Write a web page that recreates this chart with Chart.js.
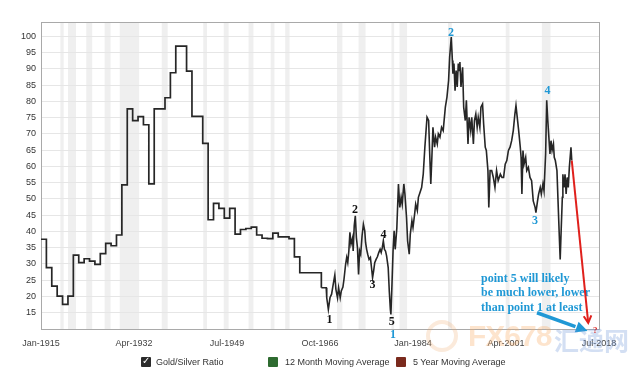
<!DOCTYPE html>
<html>
<head>
<meta charset="utf-8">
<script src="https://cdn.jsdelivr.net/npm/chart.js@4.4.1/dist/chart.umd.min.js"></script>
<style>
  html, body { margin:0; padding:0; background:#fff; }
  #wrap { position:relative; width:640px; height:379px; overflow:hidden; font-family:"Liberation Sans", Arial, sans-serif; }
  canvas { position:absolute; left:0; top:0; }
  .lg { position:absolute; font-size:9px; color:#333; line-height:10px; white-space:nowrap; }
  .box { position:absolute; width:10px; height:10px; }
  .wm { position:absolute; font-weight:bold; white-space:nowrap; pointer-events:none; }
</style>
</head>
<body>
<div id="wrap">
  <canvas id="c" width="640" height="379"></canvas>
  <div class="wm" style="left:426px;top:320px;width:32px;height:32px;border-radius:50%;border:4px solid rgba(240,170,110,0.25);box-sizing:border-box;"></div>
  <div class="wm" style="left:468px;top:319px;font-size:30px;letter-spacing:-1px;color:rgba(248,170,100,0.32);font-family:'Liberation Sans',Arial,sans-serif;">FX678</div>
  <div class="wm" style="left:554px;top:321px;font-size:25px;color:rgba(110,150,215,0.30);font-family:'Noto Sans CJK SC',sans-serif;">汇通网</div>
</div>
<script>
// ---- data ----
const annualStartYear = 1915;
const annualRatio = [37.6, 28.9, 23.2, 20.1, 17.6, 20.1, 32.7, 30.4, 31.6, 30.9,
  29.9, 33.2, 36.3, 35.6, 38.9, 54.3, 77.7, 74.1, 75.3, 72.8,
  54.6, 77.7, 77.7, 81.1, 88.8, 97.0, 97.0, 89.3, 75.4, 75.4,
  67.1, 43.6, 48.6, 47.1, 44.1, 47.1, 39.2, 40.6, 40.9, 41.3,
  38.9, 37.9, 37.8, 39.5, 38.3, 38.3, 37.8, 32.2, 27.3, 27.3,
  27.3, 27.3, 22.7];
const recentYears = [1967.0, 1967.9, 1968.0, 1968.3, 1968.6, 1968.9, 1969.2, 1969.5, 1969.7, 1970.0,
  1970.2, 1970.5, 1970.7, 1971.0, 1971.2, 1971.5, 1971.7, 1971.9, 1972.1, 1972.3,
  1972.5, 1972.8, 1972.9, 1973.1, 1973.3, 1973.5, 1973.7, 1973.9, 1974.1, 1974.3,
  1974.55, 1974.8, 1975.05, 1975.2, 1975.4, 1975.6, 1975.85, 1976.1, 1976.3, 1976.5,
  1976.7, 1976.9, 1977.15, 1977.4, 1977.65, 1977.9, 1978.1, 1978.3, 1978.5, 1978.7,
  1978.9, 1979.1, 1979.4, 1979.6, 1979.8, 1979.9, 1980.1, 1980.3, 1980.5, 1980.7,
  1981.0, 1981.3, 1981.55, 1981.8, 1982.0, 1982.3, 1982.5, 1982.8, 1983.0, 1983.3,
  1983.5, 1983.8, 1984.0, 1984.3, 1984.5, 1984.8, 1985.0, 1985.3, 1985.6, 1985.9,
  1986.2, 1986.6, 1986.9, 1987.1, 1987.3, 1987.5, 1987.7, 1988.0, 1988.2, 1988.5,
  1988.7, 1989.0, 1989.3, 1989.6, 1990.0, 1990.3, 1990.6, 1990.8, 1991.1, 1991.3,
  1991.4, 1991.6, 1991.8, 1992.0, 1992.2, 1992.4, 1992.55, 1992.7, 1992.9, 1993.2,
  1993.4, 1993.7, 1993.9, 1994.2, 1994.4, 1994.7, 1994.9, 1995.2, 1995.4, 1995.65,
  1995.9, 1996.1, 1996.4, 1996.6, 1996.9, 1997.1, 1997.4, 1997.6, 1997.9, 1998.06,
  1998.3, 1998.6, 1998.9, 1999.2, 1999.5, 1999.8, 2000.2, 2000.5, 2000.8, 2001.1,
  2001.4, 2001.7, 2002.0, 2002.3, 2002.6, 2002.9, 2003.1, 2003.4, 2003.6, 2003.9,
  2004.05, 2004.2, 2004.4, 2004.6, 2004.9, 2005.1, 2005.4, 2005.7, 2006.0, 2006.3,
  2006.65, 2006.8, 2007.1, 2007.3, 2007.6, 2007.8, 2008.1, 2008.3, 2008.6, 2008.8,
  2009.0, 2009.2, 2009.4, 2009.6, 2009.8, 2010.05, 2010.2, 2010.4, 2010.7, 2010.9,
  2011.1, 2011.3, 2011.5, 2011.7, 2011.8, 2012.0, 2012.2, 2012.4, 2012.6, 2012.8,
  2013.0, 2013.3, 2013.45];
const recentRatio = [22.7, 22.7, 19.6, 16.0, 19.6, 20.7, 23.7, 26.6, 22.2, 19.6,
  22.7, 19.6, 21.7, 22.9, 25.3, 29.9, 32.0, 30.4, 34.0, 39.7,
  36.1, 38.1, 34.0, 41.7, 44.8, 38.1, 35.0, 26.8, 34.0, 33.0,
  38.6, 42.2, 40.2, 36.6, 34.5, 33.0, 31.4, 32.0, 28.9, 25.8,
  27.9, 30.4, 31.4, 32.2, 33.5, 34.5, 33.5, 35.0, 37.1, 34.5,
  34.0, 32.5, 28.9, 21.7, 16.0, 14.5, 23.7, 34.0, 40.2, 34.5,
  41.0, 54.6, 47.4, 50.5, 48.4, 54.6, 51.5, 44.3, 37.1, 33.0,
  39.2, 43.3, 41.2, 45.3, 48.4, 46.4, 50.5, 52.0, 53.5, 57.6,
  65.9, 75.1, 74.1, 63.8, 54.6, 62.8, 72.0, 65.9, 69.0, 66.9,
  70.0, 69.0, 72.0, 71.0, 78.2, 81.3, 86.4, 93.6, 99.8, 92.6,
  88.5, 91.6, 83.3, 89.5, 84.4, 91.6, 89.5, 92.1, 84.4, 90.5,
  78.2, 74.1, 80.3, 66.9, 75.1, 71.0, 75.1, 66.9, 74.1, 76.1,
  72.0, 75.1, 72.0, 78.2, 79.2, 73.1, 65.9, 64.9, 58.7, 47.4,
  58.7, 58.7, 56.6, 53.5, 58.7, 55.6, 57.6, 56.6, 56.6, 60.7,
  61.8, 64.9, 65.9, 67.9, 71.0, 76.1, 78.7, 74.1, 71.0, 65.9,
  62.8, 51.5, 64.9, 60.7, 62.8, 58.7, 59.7, 56.6, 55.6, 49.4,
  47.4, 45.8, 49.4, 51.5, 53.5, 51.5, 54.6, 52.5, 63.8, 80.3,
  74.1, 69.0, 63.8, 67.9, 64.9, 66.9, 62.8, 61.8, 58.7, 49.4,
  40.2, 31.4, 41.2, 50.5, 57.6, 53.5, 57.6, 51.5, 56.6, 53.5,
  59.7, 65.9, 61.8];
const recessionStarts = [1918.6, 1920.0, 1923.4, 1926.8, 1929.6, 1937.4, 1945.1, 1948.9, 1953.5, 1957.6, 1960.3, 1969.9, 1973.9, 1980.0, 1981.5, 1990.5, 2001.2, 2007.9];
const recessionEnds   = [1919.2, 1921.5, 1924.5, 1927.9, 1933.2, 1938.5, 1945.8, 1949.8, 1954.4, 1958.3, 1961.1, 1970.9, 1975.2, 1980.5, 1982.9, 1991.2, 2001.9, 2009.5];
const xTickYears  = [1915, 1932.25, 1949.5, 1966.75, 1984, 2001.25, 2018.5];
const xTickLabels = ['Jan-1915', 'Apr-1932', 'Jul-1949', 'Oct-1966', 'Jan-1984', 'Apr-2001', 'Jul-2018'];
const yTickValues = [15, 20, 25, 30, 35, 40, 45, 50, 55, 60, 65, 70, 75, 80, 85, 90, 95, 100];
// wave labels: [year, ratio, text]
const blackWaveLabels = [[1968.49, 12.95, '1'], [1973.25, 46.56, '2'], [1976.47, 23.44, '3'], [1978.51, 38.95, '4'], [1980.07, 12.2, '5']];
const blueWaveLabels  = [[1980.3, 8.1, '1'], [1991.07, 101.0, '2'], [2006.65, 43.3, '3'], [2008.93, 83.1, '4']];
const noteLines = ['point 5 will likely', 'be much lower, lower', 'than point 1 at least'];
const noteLineRatios = [25.4, 21.1, 16.5];
const noteYear = 1996.63;
const projectionTarget = [2016.5, 11.9];   // red arrow end (year, ratio)
const pointerFrom = [2007.0, 15.0];        // blue arrow start
const pointerTo   = [2016.4, 9.4];         // blue arrow end
const legendItems = [
  {label:'Gold/Silver Ratio', color:'#2b2b2b', check:true, x:141},
  {label:'12 Month Moving Average', color:'#2e6b30', check:false, x:268},
  {label:'5 Year Moving Average', color:'#7a2a1d', check:false, x:396}
];

// ---- legend (HTML) ----
const wrapEl = document.getElementById('wrap');
legendItems.forEach(it => {
  const b = document.createElement('div');
  b.className = 'box';
  b.style.left = it.x + 'px'; b.style.top = '357px';
  b.style.background = it.color;
  b.style.borderRadius = '1px';
  if (it.check) {
    b.innerHTML = '<span style="position:absolute;left:1px;top:-2px;color:#fff;font:bold 10px DejaVu Sans;">✓</span>';
  }
  wrapEl.appendChild(b);
  const t = document.createElement('div');
  t.className = 'lg';
  t.style.left = (it.x + 15 + (it.check ? 0 : 2)) + 'px'; t.style.top = '357px';
  t.textContent = it.label;
  wrapEl.appendChild(t);
});

// ---- plugin: bands, frame, annotations ----
const decor = {
  id: 'decor',
  beforeDraw(chart) {
    const {ctx, chartArea: a, scales: {x}} = chart;
    ctx.save();
    ctx.fillStyle = '#efefef';
    recessionStarts.forEach((s, i) => {
      const x0 = Math.max(x.getPixelForValue(s), a.left);
      const x1 = Math.min(x.getPixelForValue(recessionEnds[i]), a.right);
      ctx.fillRect(x0, a.top, x1 - x0, a.bottom - a.top);
    });
    ctx.restore();
  },
  beforeDatasetsDraw(chart) {
    const {ctx, chartArea: a} = chart;
    ctx.save();
    ctx.strokeStyle = '#a9a9a9';
    ctx.lineWidth = 1;
    ctx.strokeRect(Math.round(a.left) + 0.5, Math.round(a.top) + 0.5, Math.round(a.right - a.left), Math.round(a.bottom - a.top));
    ctx.restore();
  },
  afterDraw(chart) {
    const {ctx, scales: {x, y}} = chart;
    const px = v => x.getPixelForValue(v), py = v => y.getPixelForValue(v);
    ctx.save();
    ctx.textAlign = 'center';
    ctx.textBaseline = 'middle';
    ctx.font = 'bold 12px "Liberation Serif", "DejaVu Serif", serif';
    ctx.fillStyle = '#111';
    blackWaveLabels.forEach(([yr, v, t]) => ctx.fillText(t, px(yr), py(v)));
    ctx.fillStyle = '#1f98d5';
    blueWaveLabels.forEach(([yr, v, t]) => ctx.fillText(t, px(yr), py(v)));
    // note text
    ctx.textAlign = 'left';
    ctx.font = 'bold 12px "Liberation Serif", "DejaVu Serif", serif';
    noteLines.forEach((t, i) => ctx.fillText(t, px(noteYear), py(noteLineRatios[i])));
    // red projection arrow from last data point
    const lastX = px(recentYears[recentYears.length - 1]), lastY = py(recentRatio[recentRatio.length - 1]);
    const ex = px(projectionTarget[0]), ey = py(projectionTarget[1]);
    ctx.strokeStyle = '#e0201c'; ctx.lineWidth = 2;
    ctx.beginPath(); ctx.moveTo(lastX, lastY); ctx.lineTo(ex, ey); ctx.stroke();
    let ang = Math.atan2(ey - lastY, ex - lastX);
    ctx.beginPath();
    ctx.moveTo(ex - 8 * Math.cos(ang - 0.5), ey - 8 * Math.sin(ang - 0.5));
    ctx.lineTo(ex, ey);
    ctx.lineTo(ex - 8 * Math.cos(ang + 0.5), ey - 8 * Math.sin(ang + 0.5));
    ctx.stroke();
    ctx.fillStyle = '#e0201c';
    ctx.font = 'bold 9px "Liberation Serif", serif';
    ctx.textAlign = 'center';
    ctx.fillText('?', ex + 7, ey + 8);
    // blue pointer arrow
    const bx0 = px(pointerFrom[0]), by0 = py(pointerFrom[1]);
    const bx1 = px(pointerTo[0]), by1 = py(pointerTo[1]);
    ang = Math.atan2(by1 - by0, bx1 - bx0);
    const head = 13;
    ctx.strokeStyle = '#1f98d5'; ctx.fillStyle = '#1f98d5'; ctx.lineWidth = 3.5;
    ctx.beginPath(); ctx.moveTo(bx0, by0);
    ctx.lineTo(bx1 - head * Math.cos(ang), by1 - head * Math.sin(ang)); ctx.stroke();
    ctx.beginPath();
    ctx.moveTo(bx1, by1);
    ctx.lineTo(bx1 - head * Math.cos(ang - 0.45), by1 - head * Math.sin(ang - 0.45));
    ctx.lineTo(bx1 - head * Math.cos(ang + 0.45), by1 - head * Math.sin(ang + 0.45));
    ctx.closePath(); ctx.fill();
    ctx.restore();
  }
};

const annualPoints = annualRatio.map((v, i) => ({x: annualStartYear + i, y: v}));
const recentPoints = recentYears.map((yr, i) => ({x: yr, y: recentRatio[i]}));

new Chart(document.getElementById('c'), {
  type: 'line',
  data: {
    datasets: [
      {label: 'Gold/Silver Ratio', data: annualPoints, stepped: true, borderColor: '#262626', borderWidth: 1.7, pointRadius: 0, fill: false},
      {label: 'Gold/Silver Ratio (monthly)', data: recentPoints, borderColor: '#262626', borderWidth: 1.6, pointRadius: 0, tension: 0, fill: false}
    ]
  },
  options: {
    responsive: false,
    devicePixelRatio: 1,
    animation: false,
    layout: {padding: {top: 22, right: 41, left: 0, bottom: 0}},
    plugins: {legend: {display: false}, tooltip: {enabled: false}},
    scales: {
      x: {
        type: 'linear', min: 1915, max: 2018.5,
        afterBuildTicks: s => { s.ticks = xTickYears.map(v => ({value: v})); },
        afterFit: s => { s.height = 50; },
        grid: {display: false, drawTicks: false},
        border: {display: false},
        ticks: {
          autoSkip: false, maxRotation: 0, padding: 9, color: '#444',
          font: {family: '"Liberation Sans", Arial, sans-serif', size: 9},
          callback: v => xTickLabels[xTickYears.indexOf(v)]
        }
      },
      y: {
        min: 10, max: 104.4,
        afterBuildTicks: s => { s.ticks = yTickValues.map(v => ({value: v})); },
        afterFit: s => { s.width = 41; },
        grid: {color: '#e6e6e6', drawTicks: false, lineWidth: 1},
        border: {display: false},
        ticks: {padding: 5, color: '#333', font: {family: '"Liberation Sans", Arial, sans-serif', size: 9}}
      }
    }
  },
  plugins: [decor]
});
</script>
</body>
</html>
